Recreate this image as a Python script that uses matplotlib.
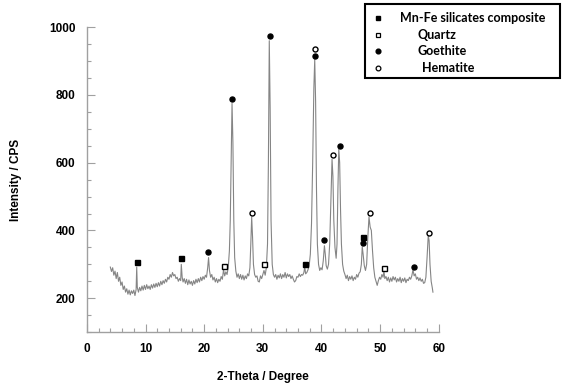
import matplotlib
matplotlib.use("Agg")
import matplotlib.pyplot as plt
from matplotlib.lines import Line2D
from matplotlib.patches import Rectangle
from matplotlib.ticker import MultipleLocator

# ==============================
# DATA
# ==============================
two_theta = [
    4.0, 4.2, 4.4, 4.6, 4.8, 5.0, 5.2, 5.4, 5.6, 5.8, 6.0, 6.2, 6.4, 6.6, 6.8, 7.0,
    7.2, 7.4, 7.6, 7.8, 8.0, 8.2, 8.4, 8.5, 8.6, 8.8, 9.0, 9.2, 9.4, 9.6, 9.8, 10.0,
    10.2, 10.4, 10.6, 10.8, 11.0, 11.2, 11.4, 11.6, 11.8, 12.0, 12.2, 12.4, 12.6, 12.8,
    13.0, 13.2, 13.4, 13.6, 13.8, 14.0, 14.2, 14.4, 14.6, 14.8, 15.0, 15.2, 15.4, 15.6,
    15.8, 16.0, 16.1, 16.25, 16.4, 16.6, 16.8, 17.0, 17.2, 17.4, 17.6, 17.8, 18.0, 18.2,
    18.4, 18.6, 18.8, 19.0, 19.2, 19.4, 19.6, 19.8, 20.0, 20.2, 20.4, 20.6, 20.75, 20.9,
    21.1, 21.3, 21.5, 21.7, 21.9, 22.1, 22.3, 22.5, 22.7, 22.9, 23.1, 23.3, 23.5, 23.7,
    23.9, 24.1, 24.3, 24.45, 24.6, 24.75, 24.9, 25.05, 25.2, 25.4, 25.6, 25.8, 26.0, 26.2,
    26.4, 26.6, 26.8, 27.0, 27.2, 27.4, 27.6, 27.8, 27.95, 28.1, 28.25, 28.4, 28.6, 28.8,
    29.0, 29.2, 29.4, 29.6, 29.8, 30.0, 30.2, 30.4, 30.6, 30.8, 30.95, 31.1, 31.25, 31.4,
    31.6, 31.8, 32.0, 32.2, 32.4, 32.6, 32.8, 33.0, 33.2, 33.4, 33.6, 33.8, 34.0, 34.2,
    34.4, 34.6, 34.8, 35.0, 35.2, 35.4, 35.6, 35.8, 36.0, 36.2, 36.4, 36.6, 36.8, 37.0,
    37.15, 37.3, 37.5, 37.7, 37.9, 38.1, 38.3, 38.5, 38.7, 38.85, 39.0, 39.15, 39.3, 39.5,
    39.7, 39.9, 40.1, 40.3, 40.5, 40.65, 40.8, 41.0, 41.2, 41.4, 41.6, 41.8, 41.95, 42.1,
    42.3, 42.5, 42.65, 42.8, 42.95, 43.1, 43.25, 43.4, 43.6, 43.8, 44.0, 44.2, 44.4, 44.6,
    44.8, 45.0, 45.2, 45.4, 45.6, 45.8, 46.0, 46.2, 46.4, 46.6, 46.8, 46.95, 47.1, 47.3,
    47.5, 47.7, 47.9, 48.1, 48.3, 48.5, 48.7, 48.9, 49.1, 49.3, 49.5, 49.7, 49.9, 50.1,
    50.3, 50.5, 50.65, 50.8, 51.0, 51.2, 51.4, 51.6, 51.8, 52.0, 52.2, 52.4, 52.6, 52.8,
    53.0, 53.2, 53.4, 53.6, 53.8, 54.0, 54.2, 54.4, 54.6, 54.8, 55.0, 55.2, 55.4, 55.6,
    55.8, 56.0, 56.2, 56.4, 56.6, 56.8, 57.0, 57.2, 57.4, 57.6, 57.8, 58.0, 58.2, 58.35,
    58.5, 58.7, 58.9, 59.0,
]
intensity = [
    292, 279, 290, 268, 280, 258, 276, 250, 262, 238, 248, 226, 236, 218, 228, 212,
    224, 210, 222, 214, 224, 208, 226, 292, 232, 218, 232, 222, 236, 224, 238, 226,
    240, 228, 236, 226, 240, 230, 242, 232, 244, 234, 246, 236, 250, 240,
    252, 244, 256, 248, 262, 256, 270, 262, 276, 266, 270, 258, 262, 250,
    258, 252, 300, 262, 248, 258, 244, 256, 240, 254, 242, 250, 238, 252,
    242, 256, 246, 258, 248, 262, 252, 264, 256, 268, 262, 290, 320, 282,
    262, 270, 254, 262, 248, 258, 246, 256, 250, 264, 256, 284, 266, 278,
    270, 290, 340, 430, 600, 775, 660, 430, 320, 280, 262, 272, 258, 270,
    256, 268, 254, 266, 258, 272, 266, 290, 360, 440, 380, 300, 270, 262,
    266, 250, 248, 266, 258, 270, 282, 268, 290, 360, 600, 960, 760, 430,
    300, 270, 262, 270, 256, 268, 260, 272, 258, 270, 262, 276, 260, 272,
    264, 270, 258, 266, 256, 248, 252, 264, 262, 272, 264, 270, 268, 276,
    292, 272, 276, 284, 296, 330, 420, 600, 820, 905, 780, 520, 360, 300,
    282, 290, 284, 310, 355, 330, 296, 286, 300, 360, 480, 610, 560, 430,
    350, 318, 360, 520, 640, 600, 460, 360, 300, 280, 270, 258, 268, 252,
    264, 256, 266, 252, 262, 256, 270, 262, 274, 278, 300, 352, 330, 296,
    282, 300, 380, 440, 410, 400, 340, 290, 262, 250, 238, 252, 262, 256,
    270, 262, 280, 258, 264, 252, 262, 248, 260, 250, 264, 254, 262, 248,
    258, 250, 262, 246, 258, 250, 260, 246, 256, 252, 262, 256, 266, 284,
    266, 272, 256, 262, 252, 260, 250, 256, 244, 246, 262, 320, 385, 370,
    300, 250, 230, 218,
]

# phase markers (2-theta, intensity)
mnfe_x = [8.5, 16.1, 37.2, 47.05]
mnfe_y = [306, 318, 300, 382]
quartz_x = [23.3, 30.2, 50.7]
quartz_y = [294, 300, 288]
goethite_x = [20.7, 24.75, 31.2, 38.9, 40.5, 43.1, 47.05, 55.7]
goethite_y = [335, 788, 973, 914, 373, 650, 362, 291]
hematite_x = [28.15, 38.9, 41.9, 48.2, 58.3]
hematite_y = [453, 935, 623, 453, 394]

legend_labels = ["Mn-Fe silicates composite", "Quartz", "Goethite", "Hematite"]

# ==============================
# FIGURE
# ==============================
fig = plt.figure(figsize=(5.64, 3.88), dpi=100)
ax = fig.add_axes([0.154, 0.144, 0.624, 0.786])

ax.plot(two_theta, intensity, color="#858585", lw=0.8)

ax.plot(mnfe_x, mnfe_y, ls="none", marker="s", ms=3.6, color="black")
ax.plot(quartz_x, quartz_y, ls="none", marker="s", ms=3.6, mfc="white",
        mec="black", mew=1.0)
ax.plot(goethite_x, goethite_y, ls="none", marker="o", ms=3.6, color="black")
ax.plot(hematite_x, hematite_y, ls="none", marker="o", ms=3.6, mfc="white",
        mec="black", mew=1.0)

ax.set_xlim(0, 60)
ax.set_ylim(100, 1000)
ax.xaxis.set_major_locator(MultipleLocator(10))
ax.xaxis.set_minor_locator(MultipleLocator(2))
ax.yaxis.set_major_locator(MultipleLocator(200))
ax.yaxis.set_minor_locator(MultipleLocator(50))

for side in ["top", "right"]:
    ax.spines[side].set_visible(False)
for side in ["left", "bottom"]:
    ax.spines[side].set_color("#a0a0a0")
    ax.spines[side].set_linewidth(1.0)

ax.tick_params(which="major", direction="in", length=6, width=0.8,
               color="#a0a0a0", labelsize=8.5, pad=8)
ax.tick_params(which="minor", direction="in", length=3, width=0.8,
               color="#a0a0a0")
for lbl in ax.get_xticklabels() + ax.get_yticklabels():
    lbl.set_fontweight("bold")
    lbl.set_family("Liberation Sans")

ax.set_xlabel("2-Theta / Degree", fontsize=8.5, fontweight="bold",
              family="Liberation Sans")
ax.set_ylabel("Intensity / CPS", fontsize=8.5, fontweight="bold",
              family="Liberation Sans")
ax.xaxis.set_label_coords(0.5, -0.128)
ax.yaxis.set_label_coords(-0.185, 0.5)

# ==============================
# LEGEND BOX (drawn by hand)
# ==============================
fig.add_artist(Rectangle((0.648, 0.800), 0.345, 0.190, transform=fig.transFigure,
                         fill=False, ec="black", lw=1.5))

rows_y = [0.954, 0.911, 0.868, 0.826]
text_x = [0.709, 0.741, 0.741, 0.748]
styles = [
    dict(marker="s", ms=3.2, color="black"),
    dict(marker="s", ms=3.0, mfc="white", mec="black", mew=0.9),
    dict(marker="o", ms=3.4, color="black"),
    dict(marker="o", ms=3.4, mfc="white", mec="black", mew=0.9),
]
for label, y, tx, st in zip(legend_labels, rows_y, text_x, styles):
    fig.add_artist(Line2D([0.670], [y], transform=fig.transFigure, ls="none", **st))
    fig.text(tx, y, label, fontsize=9, fontweight="bold", family="Lato",
             va="center", ha="left")

fig.savefig("out.png", dpi=100)
print("saved out.png")
